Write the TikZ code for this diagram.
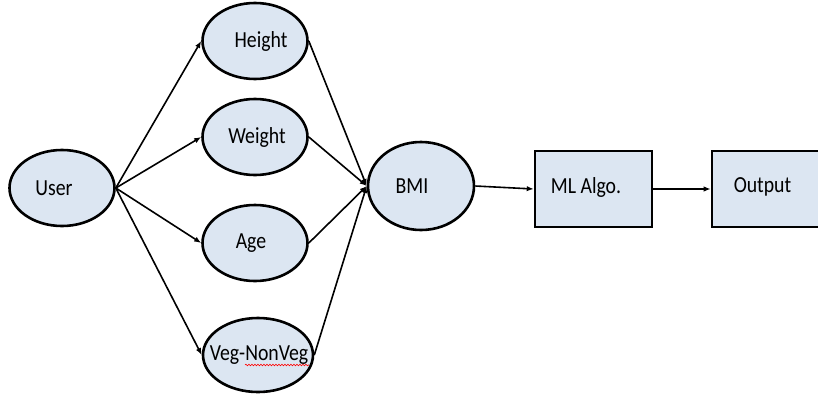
\documentclass[tikz,border=0pt]{standalone}
\usepackage{fontspec}
\setmainfont{Carlito}[FakeStretch=0.86]
\usetikzlibrary{shapes.geometric,arrows.meta,decorations.pathmorphing}
\definecolor{boxfill}{HTML}{DCE6F2}
\tikzset{
  oval/.style={ellipse, draw=black, line width=2.6pt, fill=boxfill, inner sep=0pt,
    minimum width=105pt, minimum height=76pt},
  blockbox/.style={rectangle, draw=black, line width=2.6pt, fill=boxfill, inner sep=0pt,
    minimum width=117pt, minimum height=76pt},
  lbl/.style={inner sep=0pt, font=\fontsize{23}{26}\selectfont},
  conn/.style={line width=1.6pt, -{Latex[length=7pt,width=5.5pt]}},
}
\begin{document}
\begin{tikzpicture}[x=1pt,y=-1pt]
\useasboundingbox (0,0) rectangle (818,394);
\node[oval] (user) at (62,188) {};
\node[oval] (height) at (255,41) {};
\node[oval] (weight) at (255,137) {};
\node[oval] (age) at (255,243) {};
\node[oval, minimum width=110pt, minimum height=74pt] (veg) at (258,355) {};
\node[oval, minimum width=106pt, minimum height=88pt] (bmi) at (421,186) {};
\node[blockbox] (ml) at (593.5,189) {};
\node[blockbox, minimum width=118pt] (out) at (771,189) {};
\node[lbl] (userlbl) at (54,188) {User};
\node[lbl] (heightlbl) at (261,41) {Height};
\node[lbl] (weightlbl) at (257,137) {Weight};
\node[lbl] (agelbl) at (251,243) {Age};
\node[lbl] (veglbl) at (259,355) {Veg-NonVeg};
\node[lbl] (bmilbl) at (412,186) {BMI};
\node[lbl] (mllbl) at (586,187) {ML Algo.};
\node[lbl] (outlbl) at (762.5,187) {Output};
\coordinate (src) at (user.east);
\coordinate (dst) at (bmi.west);
\draw[conn] (src) -- (height.west);
\draw[conn] (src) -- (weight.west);
\draw[conn] (src) -- (age.west);
\draw[conn] (src) -- (veg.west);
\draw[conn] (height.east) -- (dst);
\draw[conn] (weight.east) -- (dst);
\draw[conn] (age.east) -- (dst);
\draw[conn] (veg.east) -- (dst);
\draw[conn] (bmi.east) -- (ml.west);
\draw[conn] (ml.east) -- (out.west);
\coordinate (sqa) at (245,365);
\coordinate (sqb) at (309,365);
\draw[red, line width=0.6pt, decorate, decoration={snake, segment length=3pt, amplitude=0.8pt}] (sqa) -- (sqb);
\end{tikzpicture}
\end{document}
